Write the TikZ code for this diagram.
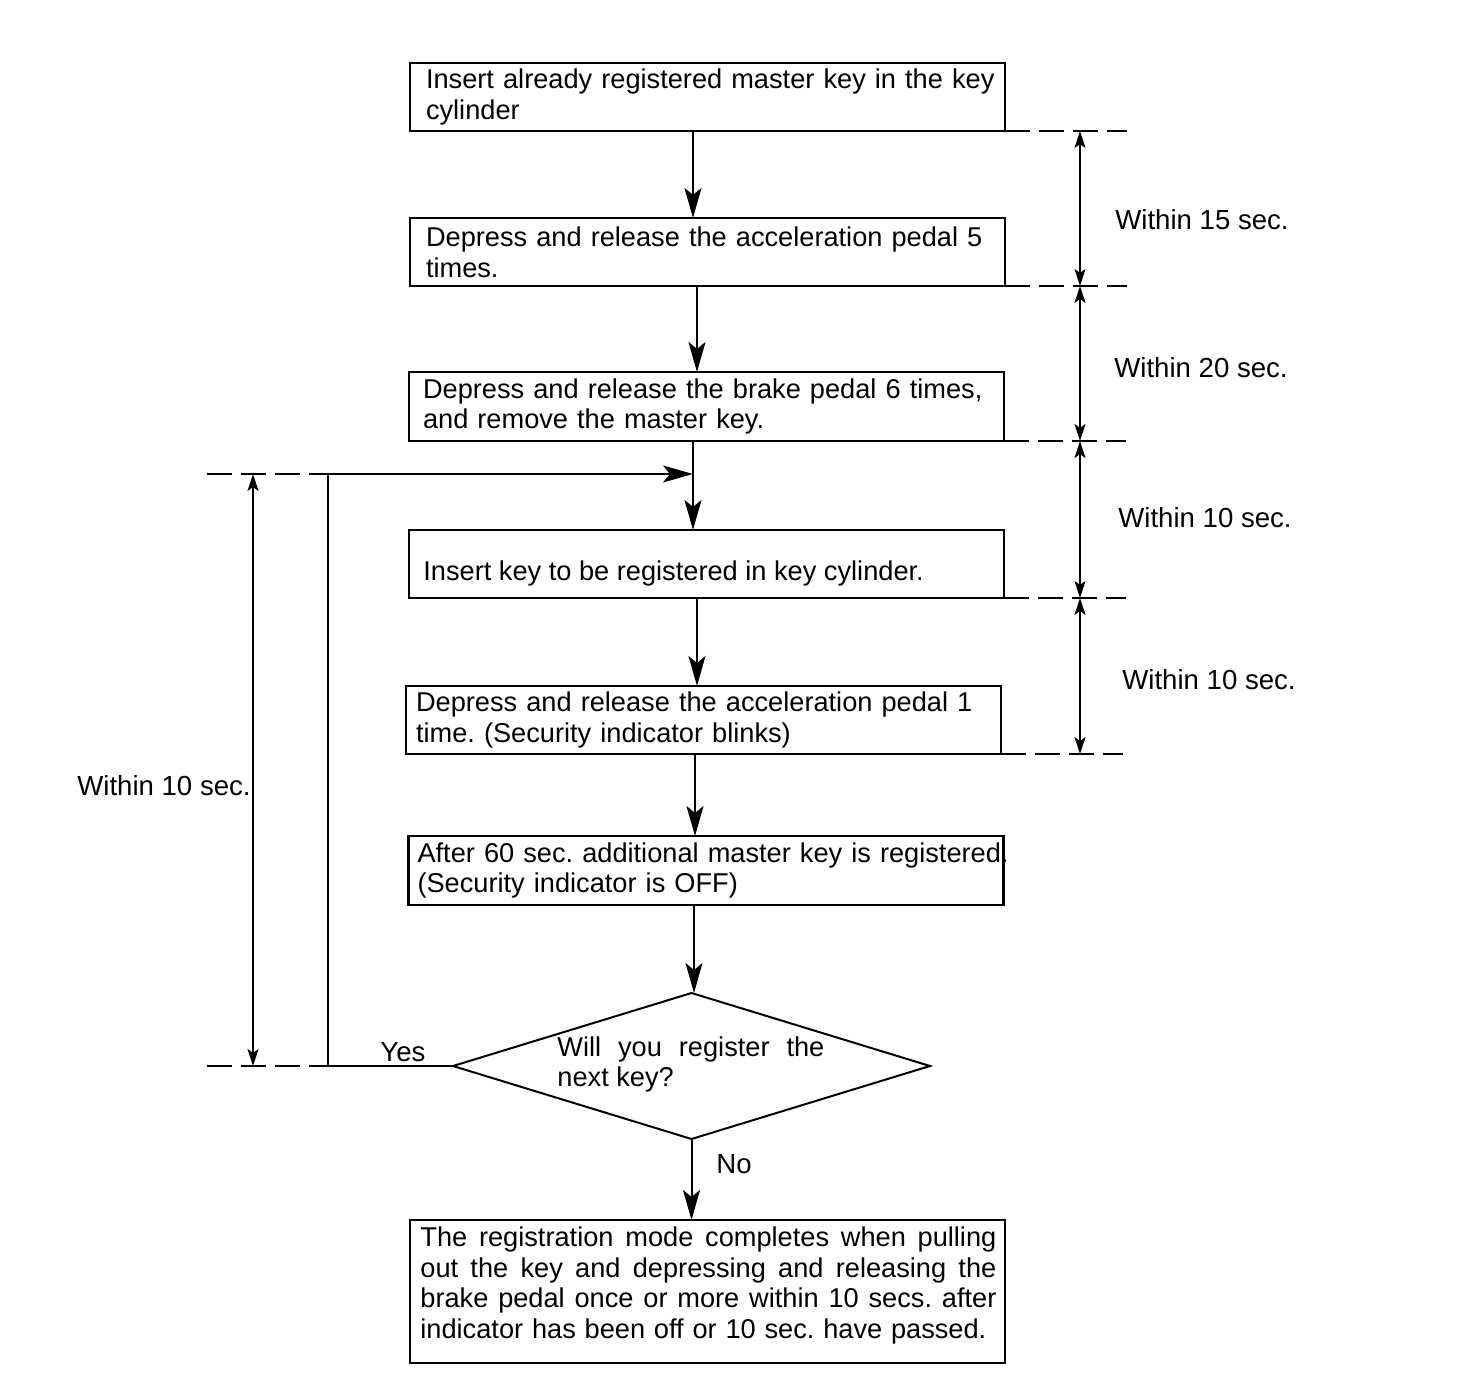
\documentclass[tikz,border=0pt]{standalone}
\usepackage{fontspec}
\setmainfont{Liberation Sans}
\usetikzlibrary{arrows.meta,shapes.geometric}
\newcommand{\fs}{\fontsize{13.6pt}{15.4pt}\selectfont\frenchspacing}
\newcommand{\fl}{\fontsize{13.8pt}{15.4pt}\selectfont\frenchspacing}
\begin{document}
\begin{tikzpicture}[x=0.5pt,y=-0.5pt,
  box/.style={draw, line width=1.1pt, rectangle, minimum height=34pt, inner ysep=0pt, outer sep=0pt, align=left, font=\fs},
  txt/.style={font=\fs, inner sep=0pt, align=left},
  lbl/.style={font=\fl, inner sep=0pt},
  arr/.style={-{Stealth[length=15pt,width=8.5pt,inset=3.5pt]}, line width=1pt},
  dimarr/.style={{Stealth[length=8.5pt,width=5.5pt,inset=2pt]}-{Stealth[length=8.5pt,width=5.5pt,inset=2pt]}, line width=0.8pt},
  dim/.style={line width=0.8pt, dash pattern=on 12.5pt off 4.5pt}]
\useasboundingbox (0,0) rectangle (1472,1400);

% boxes
\node[box, inner xsep=8pt, text width=281.5pt] (b1) at (707.5,97)
  {\mbox{Insert already registered master key in the key}\\cylinder};
\node[box, inner xsep=8pt, text width=281.5pt] (b2) at (707.5,252)
  {\mbox{Depress and release the acceleration pedal 5}\\times.};
\node[box, inner xsep=7pt, text width=283.5pt, minimum height=34.5pt] (b3) at (706.5,406.5)
  {\mbox{Depress and release the brake pedal 6 times,}\\and remove the master key.};
\node[box, minimum width=297.5pt, inner xsep=0pt] (b4) at (706.5,564) {};
\node[txt, anchor=west] (t4) at (423,573) {Insert key to be registered in key cylinder.};
\node[box, inner xsep=5pt, text width=287.5pt] (b5) at (703.5,720)
  {\makebox[287pt][s]{Depress and release the acceleration pedal 1}\\time. (Security indicator blinks)};
\node[box, inner xsep=4.5pt, text width=288.5pt, minimum height=34.5pt] (b6) at (706,870.5)
  {\makebox[291pt][s]{After 60 sec. additional master key is registered.}\\(Security indicator is OFF)};
\node[draw, diamond, line width=1pt, minimum width=238.5pt, minimum height=73pt, inner sep=0pt, outer sep=0pt] (d) at (691.5,1066) {};
\node[txt, anchor=west] (dt) at (557,1064.5)
  {\makebox[133.5pt][s]{Will you register the}\\next key?};
\node[box, minimum width=297.5pt, minimum height=71.5pt, inner xsep=0pt] (b7) at (707.5,1291.5) {};
\node[txt, anchor=west] (t7) at (420,1285.5)
  {\makebox[288pt][s]{The registration mode completes when pulling}\\
   \makebox[288pt][s]{out the key and depressing and releasing the}\\
   \makebox[288pt][s]{brake pedal once or more within 10 secs. after}\\
   \makebox[283pt][s]{indicator has been off or 10 sec. have passed.}};

% columns
\coordinate (cA) at (693,0);
\coordinate (cB) at (697,0);
\coordinate (cC) at (695,0);
\coordinate (cD) at (694,0);
\coordinate (rx) at (1080,0);
\coordinate (lx) at (253,0);
\coordinate (lc) at (328,474);
\coordinate (j) at (693,474);
\coordinate (ld) at (207,474);

% main connectors
\draw[arr] (b1.south -| cA) -- (b2.north -| cA);
\draw[arr] (b2.south -| cB) -- (b3.north -| cB);
\draw[arr] (b3.south -| cA) -- (b4.north -| cA);
\draw[arr] (b4.south -| cB) -- (b5.north -| cB);
\draw[arr] (b5.south -| cC) -- (b6.north -| cC);
\draw[arr] (b6.south -| cD) -- (d.north -| cD);
\draw[arr] (d.south) -- (b7.north -| d.south);

% loop (Yes)
\draw[arr] (d.west) -| (lc) -- (j);
\node[lbl] (yes) at (403,1052) {Yes};
\node[lbl] (no) at (734,1164) {No};

% right dimension lines
\foreach \b in {b1,b2,b3,b4,b5}{
  \draw[dim] (\b.south east) -- ++(61pt,0);
}
\draw[dimarr] (b1.south east -| rx) -- (b2.south east -| rx);
\draw[dimarr] (b2.south east -| rx) -- (b3.south east -| rx);
\draw[dimarr] (b3.south east -| rx) -- (b4.south east -| rx);
\draw[dimarr] (b4.south east -| rx) -- (b5.south east -| rx);
\node[lbl] (w1) at (1202,220) {Within 15 sec.};
\node[lbl] (w2) at (1201,368) {Within 20 sec.};
\node[lbl] (w3) at (1205,518) {Within 10 sec.};
\node[lbl] (w4) at (1209,680) {Within 10 sec.};

% left dimension
\draw[dim] (ld) -- (lc);
\draw[dim] (d.west -| ld) -- (d.west -| lc);
\draw[dimarr] (lx |- lc) -- (lx |- d.west);
\node[lbl] (w5) at (164,786) {Within 10 sec.};
\end{tikzpicture}
\end{document}
